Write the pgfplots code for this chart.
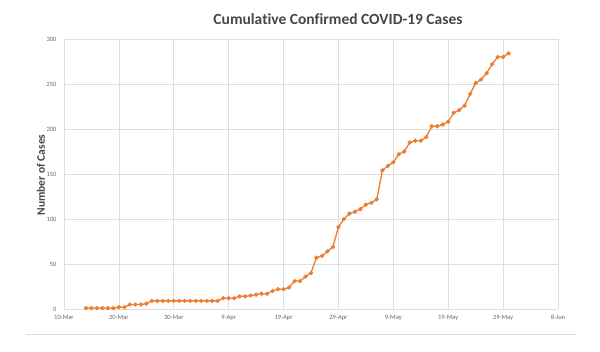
\documentclass[border=0pt]{standalone}
\usepackage{pgfplots}
\pgfplotsset{compat=1.18}
\usepackage{fontspec}
\setmainfont[RawFeature=-liga]{Carlito}
\definecolor{xlorange}{RGB}{237,125,49}
\definecolor{gridgray}{RGB}{222,222,222}
\definecolor{txtgray}{RGB}{100,100,100}
\definecolor{titlegray}{RGB}{70,70,70}
\begin{document}
\begin{tikzpicture}[x=1pt,y=1pt]
\useasboundingbox (0,0) rectangle (600,351);
\begin{axis}[
  at={(64pt,42pt)}, anchor=south west,
  scale only axis, width=494pt, height=270pt,
  xmin=0, xmax=90, ymin=0, ymax=300,
  xtick={0,10,...,90},
  xticklabels={10-Mar,20-Mar,30-Mar,9-Apr,19-Apr,29-Apr,9-May,19-May,29-May,8-Jun},
  ytick={0,50,...,300},
  grid=major, major grid style={gridgray, line width=0.7pt},
  axis lines*=left,
  axis line style={gridgray, line width=0.8pt},
  tick style={draw=none},
  ticklabel style={font=\fontsize{6.5}{7}\selectfont, text=txtgray},
  /pgf/number format/assume math mode=true,
  xticklabel style={yshift=-3pt},
  yticklabel style={xshift=-4pt},
]
\addplot[color=xlorange, line width=1.3pt, mark=*, mark size=1.4pt, mark options={fill=xlorange, draw=xlorange}] coordinates {
(4,1)(5,1)(6,1)(7,1)(8,1)(9,1)
(10,2)(11,2)
(12,5)(13,5)(14,5)(15,6)
(16,9)(17,9)(18,9)(19,9)(20,9)(21,9)(22,9)(23,9)(24,9)(25,9)(26,9)(27,9)(28,9)
(29,12)(30,12)(31,12)
(32,14)(33,14)
(34,15)(35,16)(36,17)(37,17)(38,20)(39,22)(40,22)(41,24)(42,31)(43,31)(44,36)(45,40)
(46,57)(47,59)(48,64)(49,69)(50,91)(51,100)(52,106)(53,108)(54,111)(55,116)(56,118)(57,122)
(58,154)(59,159)(60,163)(61,172)(62,175)(63,185)(64,187)(65,187)(66,191)(67,203)(68,203)(69,205)
(70,208)(71,218)(72,221)(73,226)(74,239)(75,251)(76,255)(77,262)(78,272)(79,280)(80,280)(81,284)
};
\end{axis}
\node[text=titlegray, font=\fontsize{15.5}{17}\selectfont\bfseries] at (338,332) {Cumulative Confirmed COVID-19 Cases};
\node[text=titlegray, rotate=90, font=\fontsize{11.5}{13}\selectfont\bfseries] at (41,176) {Number of Cases};
\draw[gridgray, line width=0.8pt] (26,17) -- (577,17);
\end{tikzpicture}
\end{document}
